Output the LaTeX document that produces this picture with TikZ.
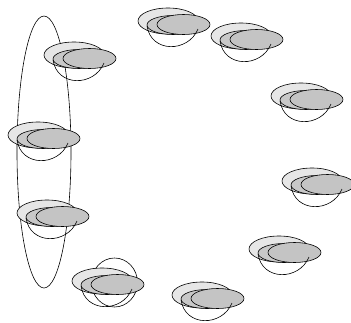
\documentclass[tikz,border=0pt]{standalone}
\usetikzlibrary{shapes.geometric}
\definecolor{lightfill}{HTML}{E6E6E6}
\definecolor{midfill}{HTML}{C8C8C8}
\definecolor{frontfill}{HTML}{C4C4C4}
\tikzset{
  every path/.style={line width=0.6pt},
  ellbase/.style={ellipse, draw=black, inner sep=0pt, line width=0.6pt},
  lightell/.style={ellbase, fill=lightfill, minimum width=60pt, minimum height=26pt},
  midell/.style={ellbase, fill=midfill, minimum width=52pt, minimum height=19pt},
  frontell/.style={ellbase, fill=frontfill, minimum width=53pt, minimum height=20pt},
  loopline/.style={draw=black, line width=0.6pt},
}
\newcommand\mycluster[3]{%
  \begin{scope}[shift={(#2,-#3)}]
    \node[lightell] (#1l) at (30,-13) {};
    \node[midell] (#1m) at (35,-17) {};
    \node[frontell] (#1f) at (45.5,-16.5) {};
    \coordinate (#1s) at (9,-18);
    \coordinate (#1e) at (60,-21);
    \draw[loopline] (#1s) .. controls (13,-45) and (50,-45) .. (#1e);
  \end{scope}}
\begin{document}
\begin{tikzpicture}[x=1pt,y=1pt]
\useasboundingbox (0,0) rectangle (351,-322);
% big vertical ellipse
\node[ellipse, draw=black, inner sep=0pt, minimum width=54pt, minimum height=272pt, line width=0.6pt] (big) at (44,-152) {};
% circle around cluster h
\node[ellipse, draw=black, inner sep=0pt, minimum width=46pt, minimum height=49pt, line width=0.6pt] (ring) at (114.5,-282.5) {};
\mycluster{a}{44}{42}
\mycluster{b}{138}{8}
\mycluster{c}{211}{23}
\mycluster{d}{271}{83}
\mycluster{e}{282}{168}
\mycluster{f}{249}{236}
\mycluster{g}{172}{282}
\mycluster{h}{72}{268}
\mycluster{i}{17}{200}
\mycluster{j}{8}{122}
\end{tikzpicture}
\end{document}
